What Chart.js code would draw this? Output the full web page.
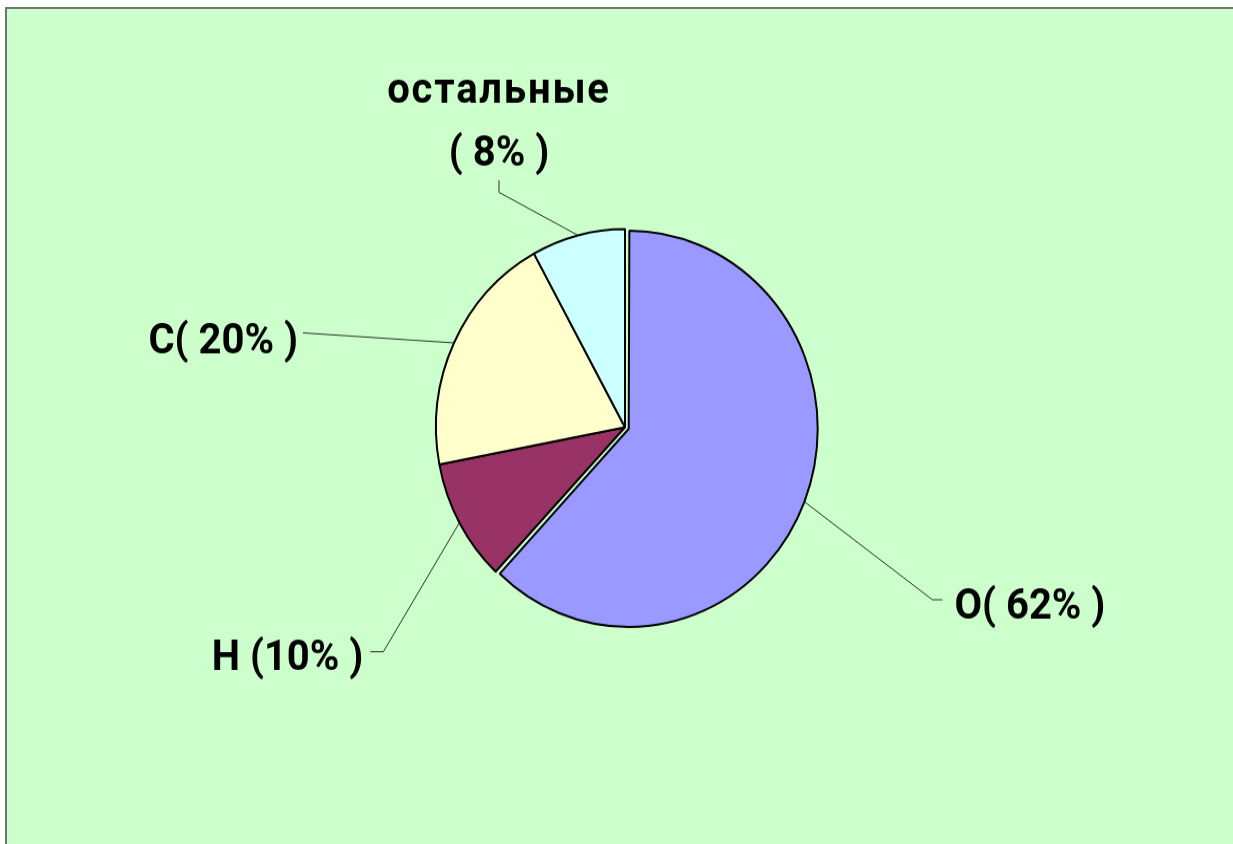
<!DOCTYPE html>
<html>
<head>
<meta charset="utf-8">
<script src="https://cdn.jsdelivr.net/npm/chart.js@4.4.1/dist/chart.umd.min.js"></script>
<style>
  html, body { margin: 0; padding: 0; background: #fff; overflow: hidden; width: 1233px; height: 844px; }
  #frame {
    position: absolute; left: 5px; top: 7px; width: 1226px; height: 835px;
    background: #ccffcc; border-left: 2px solid #6f7571; border-top: 2px solid #6f7571;
  }
  #pie { position: absolute; left: 0; top: 0; }
</style>
</head>
<body>
<div id="frame"></div>
<canvas id="pie" width="1233" height="805" style="width:1233px;height:844px"></canvas>
<script>
const elements = ['O', 'H', 'C', 'остальные'];
const shares = [62, 10, 20, 8];
const sliceColors = ['#9999ff', '#993366', '#ffffcc', '#ccffff'];
const labelLines = [['O( 62% )'], ['H (10% )'], ['C( 20% )'], ['остальные', '( 8% )']];
const explode = [16, 0, 0, 0];

// the original pie is a little taller than wide, so the canvas is drawn squeezed
// and css stretches it back
const SY = 844 / 805;

// leader lines, in screen px relative to the point on the slice edge
const leaders = [
  { elbow: [128, 98], tail: [10, 0], align: 'left', text: [12, 19] },
  { elbow: [-76, 129], tail: [-13, 0], align: 'right', text: [-7, 18] },
  { elbow: [-151, -10], tail: [0, 0], align: 'right', text: [-5, 20] },
  { elbow: [-79, -43], tail: [0, -12], align: 'center', text: [0, -15], gap: 63, spacing: [1.8, 0] }
];

// chart.js grows an exploded big slice by offset/4, take that back so all slices have one radius
const keepRadius = {
  id: 'keepRadius',
  afterDatasetsUpdate(chart) {
    chart.getDatasetMeta(0).data.forEach((arc, i) => {
      const circ = arc.endAngle - arc.startAngle;
      const fix = 1 - Math.sin(Math.min(Math.PI, circ));
      arc.outerRadius -= explode[i] / 4 * fix;
    });
  }
};

const leaderLabels = {
  id: 'leaderLabels',
  afterDraw(chart) {
    const ctx = chart.ctx;
    const meta = chart.getDatasetMeta(0);
    meta.data.forEach((arc, i) => {
      const p = arc.getProps(['x', 'y', 'startAngle', 'endAngle', 'outerRadius'], true);
      const mid = (p.startAngle + p.endAngle) / 2;
      const off = explode[i] / 4;
      const fix = 1 - Math.sin(Math.min(Math.PI, p.endAngle - p.startAngle));
      const r = p.outerRadius + off * fix + off;
      const sx = p.x + Math.cos(mid) * r;
      const sy = p.y + Math.sin(mid) * r;
      const L = leaders[i];
      const ex = sx + L.elbow[0], ey = sy + L.elbow[1] / SY;
      const tx = ex + L.tail[0], ty = ey + L.tail[1] / SY;

      ctx.save();
      ctx.strokeStyle = '#283028';
      ctx.lineWidth = 1;
      ctx.beginPath();
      ctx.moveTo(sx, sy);
      ctx.lineTo(ex, ey);
      ctx.lineTo(tx, ty);
      ctx.stroke();

      ctx.fillStyle = '#000';
      ctx.font = 'bold 40px Roboto';
      ctx.textAlign = L.align;
      ctx.textBaseline = 'alphabetic';
      const lines = labelLines[i];
      let by = ty + L.text[1] / SY;
      for (let k = lines.length - 1; k >= 0; k--) {
        ctx.letterSpacing = (L.spacing ? L.spacing[k] : 0) + 'px';
        ctx.fillText(lines[k], tx + L.text[0], by);
        by -= (L.gap || 0) / SY;
      }
      ctx.restore();
    });
  }
};

new Chart(document.getElementById('pie'), {
  type: 'pie',
  data: {
    labels: elements,
    datasets: [{
      data: shares,
      backgroundColor: sliceColors,
      borderColor: '#000',
      borderWidth: 2,
      offset: explode
    }]
  },
  options: {
    responsive: false,
    animation: false,
    radius: 189,
    layout: { padding: { left: 17, right: 0, top: 10, bottom: 0 } },
    plugins: { legend: { display: false }, tooltip: { enabled: false } }
  },
  plugins: [keepRadius, leaderLabels]
});
</script>
</body>
</html>
